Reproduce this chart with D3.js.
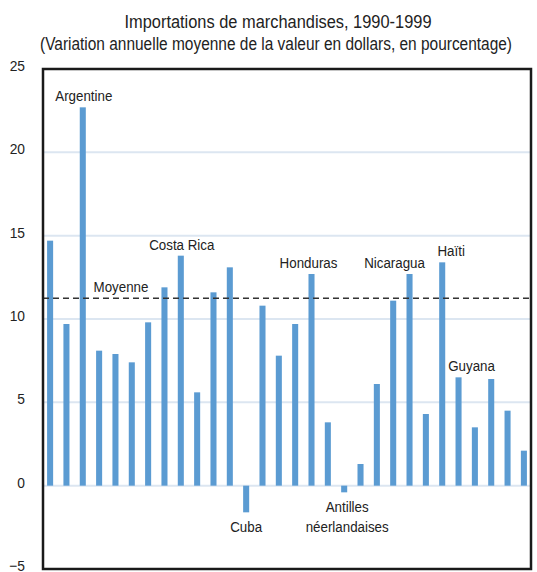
<!DOCTYPE html>
<html lang="fr">
<head>
<meta charset="UTF-8">
<title>Importations de marchandises</title>
<script src="https://d3js.org/d3.v7.min.js"></script>
<style>
  body { margin: 0; background: #fff; }
  text { font-family: "Liberation Sans", Arial, sans-serif; fill: #222; }
</style>
</head>
<body>
<script>
// countries in chart order (only the annotated ones are named in the source)
var countries = ["", "", "Argentine", "", "", "", "", "", "Costa Rica", "", "", "",
                 "Cuba", "", "", "", "Honduras", "", "Antilles néerlandaises", "", "", "",
                 "Nicaragua", "", "Haïti", "Guyana", "", "", "", ""];
var values = [14.7, 9.7, 22.7, 8.1, 7.9, 7.4, 9.8, 11.9, 13.8, 5.6, 11.6, 13.1,
              -1.6, 10.8, 7.8, 9.7, 12.7, 3.8, -0.4, 1.3, 6.1, 11.1,
              12.7, 4.3, 13.4, 6.5, 3.5, 6.4, 4.5, 2.1];
var average = 11.25;
var yTicks = [-5, 0, 5, 10, 15, 20, 25];

// label placement tweaks (index, lines, dx)
var notes = [
  {i: 2, lines: ["Argentine"], dx: 1},
  {i: 8, lines: ["Costa Rica"], dx: 1},
  {i: 12, lines: ["Cuba"], dx: 0},
  {i: 16, lines: ["Honduras"], dx: -3},
  {i: 18, lines: ["Antilles", "néerlandaises"], dx: 3},
  {i: 22, lines: ["Nicaragua"], dx: -15},
  {i: 24, lines: ["Haïti"], dx: 9},
  {i: 25, lines: ["Guyana"], dx: 13}
];

var W = 537, H = 572;
var margin = {top: 69, right: 6, bottom: 3, left: 43},
    width = W - margin.left - margin.right,
    height = H - margin.top - margin.bottom;

// the source font is a condensed face; squeeze the installed one to match
var squeeze = 0.86;
function narrow(sel, f) {
  sel.each(function() {
    var len = this.getComputedTextLength();
    d3.select(this).attr("textLength", len * (f || squeeze))
      .attr("lengthAdjust", "spacingAndGlyphs");
  });
}

var svg = d3.select("body").append("svg")
    .attr("width", W)
    .attr("height", H);

// titles
svg.append("text")
    .attr("x", 278).attr("y", 28)
    .attr("text-anchor", "middle")
    .style("font-size", "17.5px")
    .text("Importations de marchandises, 1990-1999")
    .attr("textLength", 307).attr("lengthAdjust", "spacingAndGlyphs");
svg.append("text")
    .attr("x", 276).attr("y", 50)
    .attr("text-anchor", "middle")
    .style("font-size", "17.5px")
    .text("(Variation annuelle moyenne de la valeur en dollars, en pourcentage)")
    .attr("textLength", 472).attr("lengthAdjust", "spacingAndGlyphs");

var g = svg.append("g")
    .attr("transform", "translate(" + margin.left + "," + margin.top + ")");

var x = d3.scaleBand()
    .domain(d3.range(values.length))
    .range([0, width])
    .paddingInner(0.63)
    .paddingOuter(0.25);

var y = d3.scaleLinear()
    .domain([-5, 25])
    .range([height, 0]);

// grid lines
g.selectAll(".grid")
    .data(yTicks.filter(function(d) { return d > -5 && d < 25; }))
    .enter().append("line")
    .attr("x1", 0).attr("x2", width)
    .attr("y1", function(d) { return y(d); })
    .attr("y2", function(d) { return y(d); })
    .style("stroke", "#dce6f1")
    .style("stroke-width", 2);

// y axis labels
var yAxis = d3.axisLeft(y).tickValues(yTicks).tickSize(0).tickPadding(18);
g.append("g").call(yAxis)
    .call(function(a) { a.select(".domain").remove(); })
    .selectAll("text")
    .style("font-size", "15px")
    .style("font-family", "\"Liberation Sans\", Arial, sans-serif")
    .attr("dy", "0.1em")
    .call(narrow, 0.92);

// bars
g.selectAll(".bar")
    .data(values)
    .enter().append("rect")
    .attr("x", function(d, i) { return x(i); })
    .attr("width", x.bandwidth())
    .attr("y", function(d) { return y(Math.max(0, d)); })
    .attr("height", function(d) { return Math.abs(y(d) - y(0)); })
    .style("fill", "#5b9bd2");

// average line
g.append("line")
    .attr("x1", 0).attr("x2", width)
    .attr("y1", y(average)).attr("y2", y(average))
    .style("stroke", "#333")
    .style("stroke-width", 1.5)
    .style("stroke-dasharray", "6,4");
g.append("text")
    .attr("x", 78).attr("y", y(average) - 6)
    .attr("text-anchor", "middle")
    .style("font-size", "15.5px")
    .text("Moyenne")
    .call(narrow);

// country labels
notes.forEach(function(n) {
  var v = values[n.i];
  var cx = x(n.i) + x.bandwidth() / 2 + n.dx;
  n.lines.forEach(function(line, k) {
    var yy = v >= 0 ? y(v) - 6 - (n.lines.length - 1 - k) * 20
                    : y(v) + 20 + k * 20;
    g.append("text")
      .attr("x", cx).attr("y", yy)
      .attr("text-anchor", "middle")
      .style("font-size", "15.5px")
      .text(line)
      .call(narrow);
  });
});

// frame
g.append("rect")
    .attr("x", 0).attr("y", 0)
    .attr("width", width).attr("height", height)
    .style("fill", "none")
    .style("stroke", "#1a1a1a")
    .style("stroke-width", 2.5);
</script>
</body>
</html>
